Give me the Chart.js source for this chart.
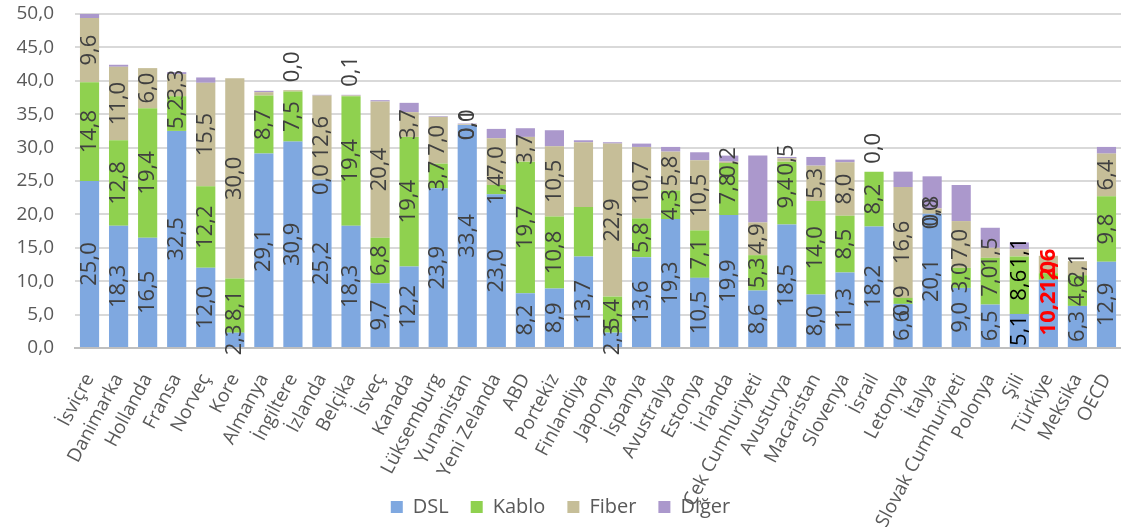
<!DOCTYPE html>
<html>
<head>
<meta charset="utf-8">
<script src="https://cdn.jsdelivr.net/npm/chart.js@4.4.1/dist/chart.umd.min.js"></script>
<style>
  body { margin: 0; background: #fff; }
</style>
</head>
<body>
<canvas id="chart" width="1121" height="527"></canvas>
<script>
const categories = ['İsviçre', 'Danimarka', 'Hollanda', 'Fransa', 'Norveç', 'Kore', 'Almanya', 'İngiltere',
  'İzlanda', 'Belçika', 'İsveç', 'Kanada', 'Lüksemburg', 'Yunanistan', 'Yeni Zelanda', 'ABD', 'Portekiz',
  'Finlandiya', 'Japonya', 'İspanya', 'Avustralya', 'Estonya', 'İrlanda', 'Çek Cumhuriyeti', 'Avusturya',
  'Macaristan', 'Slovenya', 'İsrail', 'Letonya', 'İtalya', 'Slovak Cumhuriyeti', 'Polonya', 'Şili',
  'Türkiye', 'Meksika', 'OECD']

const dsl = [25.0, 18.3, 16.5, 32.5, 12.0, 2.3, 29.1, 30.9, 25.2, 18.3, 9.7, 12.2, 23.9, 33.4, 23.0, 8.2, 8.9,
  13.7, 2.3, 13.6, 19.3, 10.5, 19.9, 8.6, 18.5, 8.0, 11.3, 18.2, 6.6, 20.1, 9.0, 6.5, 5.1, 10.2, 6.3, 12.9]
const kablo = [14.8, 12.8, 19.4, 5.2, 12.2, 8.1, 8.7, 7.5, 0.0, 19.4, 6.8, 19.4, 3.7, 0.0, 1.4, 19.7, 10.8,
  7.4, 5.4, 5.8, 4.3, 7.1, 7.8, 5.3, 9.4, 14.0, 8.5, 8.2, 0.9, 0.0, 3.0, 7.0, 8.6, 1.0, 4.6, 9.8]
const fiber = [9.6, 11.0, 6.0, 3.3, 15.5, 30.0, 0.5, 0.2, 12.6, 0.1, 20.4, 3.7, 7.0, 0.1, 7.0, 3.7, 10.5,
  9.7, 22.9, 10.7, 5.8, 10.5, 0.2, 4.9, 0.5, 5.3, 8.0, 0.0, 16.6, 0.8, 7.0, 1.5, 1.1, 2.6, 2.1, 6.4]
const diger = [0.7, 0.3, 0.0, 0.3, 0.8, 0.0, 0.2, 0.0, 0.1, 0.1, 0.2, 1.4, 0.1, 0.1, 1.4, 1.3, 2.4,
  0.3, 0.2, 0.5, 0.7, 1.2, 0.9, 10.0, 0.2, 1.3, 0.4, 0.0, 2.3, 4.8, 5.4, 3.0, 1.0, 0.0, 0.0, 1.0]

// which segments carry a value label in the original
const kabloNoLabel = ['Finlandiya']
const fiberNoLabel = ['Almanya', 'İngiltere', 'Belçika', 'Finlandiya', 'İsrail']
const digerWithLabel = ['İngiltere', 'Belçika', 'İsrail']

const yTicks = [0, 5, 10, 15, 20, 25, 30, 35, 40, 45, 50]

const fmt = (v) => v.toFixed(1).replace('.', ',')

function labelColor(cat) {
  if (cat === 'Türkiye') return '#ff0000'
  if (cat === 'Şili') return '#000000'
  return '#404040'
}

const segmentLabels = {
  id: 'segmentLabels',
  afterLayout(chart) {
    // rotated category names run down into the legend strip, like in the original
    chart.scales.x.bottom = chart.height
  },
  afterDatasetsDraw(chart) {
    const ctx = chart.ctx
    chart.data.datasets.forEach((ds, di) => {
      const meta = chart.getDatasetMeta(di)
      meta.data.forEach((bar, i) => {
        const cat = categories[i]
        if (!ds.showLabel(cat)) return
        const bold = cat === 'Türkiye'
        ctx.save()
        ctx.font = (bold ? 'bold ' : '') + '22px "Open Sans", sans-serif'
        ctx.fillStyle = labelColor(cat)
        ctx.textBaseline = 'middle'
        if (ds.labelAbove) {
          ctx.translate(bar.x, Math.min(bar.y, bar.base) - 8)
          ctx.rotate(-Math.PI / 2)
          ctx.textAlign = 'left'
        } else {
          ctx.translate(bar.x, (bar.y + bar.base) / 2)
          ctx.rotate(-Math.PI / 2)
          ctx.textAlign = 'center'
        }
        ctx.fillText(fmt(ds.data[i]), 0, 0)
        ctx.restore()
      })
    })
  }
}

Chart.defaults.font.family = '"Open Sans", sans-serif'
Chart.defaults.color = '#595959'

new Chart(document.getElementById('chart'), {
  type: 'bar',
  data: {
    labels: categories,
    datasets: [
      { label: 'DSL', data: dsl, backgroundColor: '#7fa8e0', showLabel: () => true },
      { label: 'Kablo', data: kablo, backgroundColor: '#8fd14f', showLabel: (c) => !kabloNoLabel.includes(c) },
      { label: 'Fiber', data: fiber, backgroundColor: '#c6be98', showLabel: (c) => !fiberNoLabel.includes(c) },
      { label: 'Diğer', data: diger, backgroundColor: '#ab98cc', showLabel: (c) => digerWithLabel.includes(c), labelAbove: true }
    ]
  },
  options: {
    responsive: false,
    animation: false,
    layout: { padding: { top: 14, right: 0, left: 0, bottom: 0 } },
    datasets: { bar: { barPercentage: 0.66, categoryPercentage: 1 } },
    plugins: {
      tooltip: { enabled: false },
      legend: {
        position: 'bottom',
        labels: { boxWidth: 12, boxHeight: 12, padding: 22, font: { size: 20 }, color: '#595959' }
      }
    },
    scales: {
      x: {
        stacked: true,
        grid: { display: false },
        border: { color: '#bfbfbf', width: 2 },
        ticks: { autoSkip: false, maxRotation: 62, minRotation: 62, padding: 14, font: { size: 19 } },
        afterFit(scale) {
          scale.height = 127
          scale.paddingLeft = 0
          scale.paddingRight = 0
        }
      },
      y: {
        stacked: true,
        min: 0,
        max: 50,
        afterBuildTicks(scale) { scale.ticks = yTicks.map(v => ({ value: v })) },
        grid: { color: '#d9d9d9', lineWidth: 2, drawTicks: false },
        border: { display: false },
        ticks: { padding: 21, font: { size: 19 }, callback: (v) => fmt(v) },
        afterFit(scale) {
          scale.width = 75
          scale.paddingTop = 0
          scale.paddingBottom = 0
        }
      }
    }
  },
  plugins: [segmentLabels]
})
</script>
</body>
</html>
